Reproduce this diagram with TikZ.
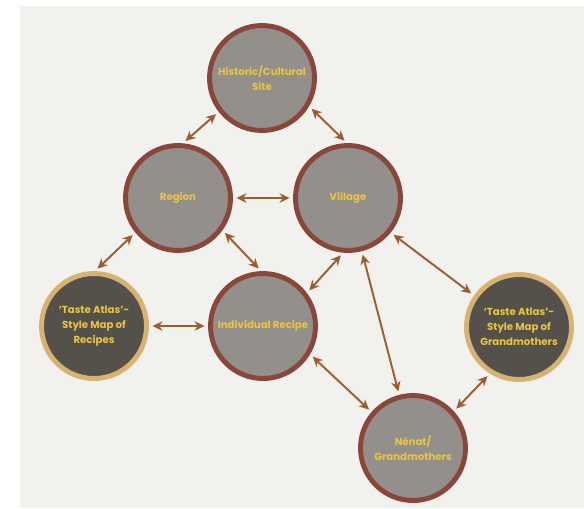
\documentclass[tikz,border=0pt]{standalone}
\usepackage{fontspec}
\setmainfont{Poppins}
\usetikzlibrary{arrows.meta, positioning}
\definecolor{paper}{RGB}{241, 241, 238}
\definecolor{stonegray}{RGB}{147, 143, 138}
\definecolor{maroonrim}{RGB}{138, 70, 56}
\definecolor{darkslate}{RGB}{84, 80, 74}
\definecolor{tanrim}{RGB}{216, 178, 112}
\definecolor{mustard}{RGB}{232, 197, 66}
\definecolor{arrowbrown}{RGB}{158, 92, 48}
\tikzset{
  linkarrow/.style={{Stealth[length=2mm, width=1.9mm]}-{Stealth[length=2mm, width=1.9mm]}, line width=1.1pt, arrowbrown, shorten <=2pt, shorten >=2pt}
}
\tikzset{
  topic/.style={circle, draw=maroonrim, line width=2.8pt, fill=stonegray, minimum size=2.1cm, inner sep=0pt, align=center, text=mustard, font=\fontsize{5.8}{8.6}\selectfont\bfseries},
  atlas/.style={topic, draw=tanrim, fill=darkslate}
}

\begin{document}
\begin{tikzpicture}[x=0.02cm, y=-0.02cm]
    % page and paper
    \useasboundingbox (0, 0) rectangle (584, 508);
    \fill[white] (0, 0) rectangle (584, 508);
    \fill[paper] (20, 6) rectangle (584, 508);

    % circles
    \node[topic] (histsite) at (262, 78) {Historic/Cultural\\Site};
    \node[topic] (region) at (178, 198) {Region};
    \node[topic] (village) at (348, 198) {Village};
    \node[topic] (recipe) at (263, 326) {Individual Recipe};
    \node[atlas] (atlasrecipes) at (94, 326) {`Taste Atlas'-\\Style Map of\\Recipes};
    \node[atlas] (atlasgrand) at (519, 327) {`Taste Atlas'-\\Style Map of\\Grandmothers};
    \node[topic] (nenat) at (413, 448) {Nënat/\\Grandmothers};

    % links
    \draw[linkarrow] (histsite.218) -- (region.85);
    \draw[linkarrow] (histsite.329) -- (village.91);
    \draw[linkarrow] (region) -- (village);
    \draw[linkarrow] (region.324) -- (recipe.92);
    \draw[linkarrow] (region.219) -- (atlasrecipes.89);
    \draw[linkarrow] (atlasrecipes) -- (recipe);
    \draw[linkarrow] (recipe.37) -- (village.265);
    \draw[linkarrow] (village) -- (nenat);
    \draw[linkarrow] (village.321) -- (atlasgrand.145);
    \draw[linkarrow] (recipe.329) -- (nenat.139);
    \draw[linkarrow] (nenat.42) -- (atlasgrand.238);
\end{tikzpicture}
\end{document}
